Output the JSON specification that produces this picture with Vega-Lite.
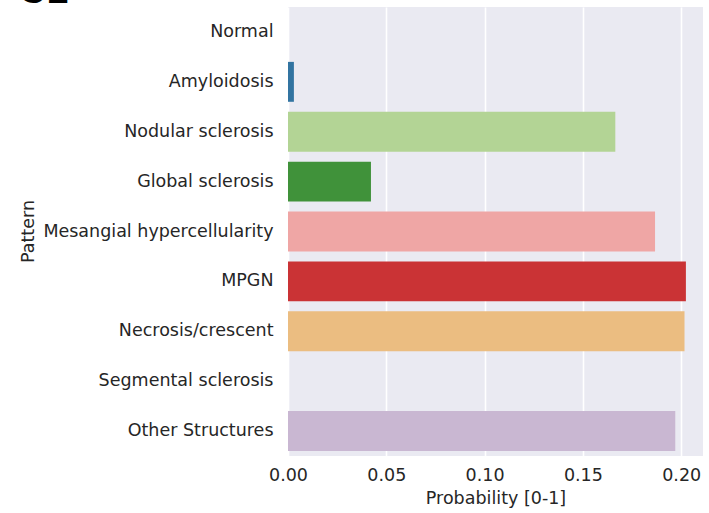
{
  "$schema": "https://vega.github.io/schema/vega-lite/v6.json",
  "width": 415,
  "height": 449,
  "autosize": {"type": "none"},
  "padding": {"left": 288, "top": 7, "right": 6, "bottom": 57},
  "background": "white",
  "title": {
    "text": "C2",
    "anchor": "start",
    "frame": "group",
    "orient": "top",
    "offset": 0,
    "dx": -270,
    "dy": 4,
    "font": "Liberation Sans",
    "fontSize": 40,
    "fontWeight": "normal",
    "color": "#000000"
  },
  "data": {
    "values": [
      {"Pattern": "Normal", "Probability": 0.0},
      {"Pattern": "Amyloidosis", "Probability": 0.003},
      {"Pattern": "Nodular sclerosis", "Probability": 0.1665},
      {"Pattern": "Global sclerosis", "Probability": 0.0422},
      {"Pattern": "Mesangial hypercellularity", "Probability": 0.1867},
      {"Pattern": "MPGN", "Probability": 0.2024},
      {"Pattern": "Necrosis/crescent", "Probability": 0.2017},
      {"Pattern": "Segmental sclerosis", "Probability": 0.0},
      {"Pattern": "Other Structures", "Probability": 0.197}
    ]
  },
  "config": {
    "view": {"fill": "#eaeaf2", "stroke": null},
    "font": "DejaVu Sans",
    "axis": {
      "labelFont": "DejaVu Sans",
      "titleFont": "DejaVu Sans",
      "labelFontSize": 17.5,
      "titleFontSize": 17.5,
      "titleFontWeight": "normal",
      "labelColor": "#262626",
      "titleColor": "#262626",
      "domain": false,
      "ticks": false,
      "labelLimit": 400
    }
  },
  "mark": {"type": "bar", "orient": "horizontal"},
  "encoding": {
    "y": {
      "field": "Pattern",
      "type": "nominal",
      "sort": null,
      "scale": {"paddingInner": 0.2, "paddingOuter": 0.1},
      "axis": {
        "title": "Pattern",
        "grid": false,
        "labelPadding": 15,
        "titleX": -255,
        "titleY": 224,
        "titleAngle": 270,
        "titleAlign": "center",
        "titleBaseline": "alphabetic"
      }
    },
    "x": {
      "field": "Probability",
      "type": "quantitative",
      "scale": {"domain": [0, 0.2111], "nice": false, "zero": true},
      "axis": {
        "title": "Probability [0-1]",
        "values": [0, 0.05, 0.1, 0.15, 0.2],
        "format": ".2f",
        "labelFlush": false,
        "grid": true,
        "gridColor": "white",
        "gridWidth": 1.6,
        "labelPadding": 10,
        "titlePadding": 6
      }
    },
    "color": {
      "field": "Pattern",
      "type": "nominal",
      "legend": null,
      "scale": {
        "domain": ["Normal", "Amyloidosis", "Nodular sclerosis", "Global sclerosis", "Mesangial hypercellularity", "MPGN", "Necrosis/crescent", "Segmental sclerosis", "Other Structures"],
        "range": ["#a5c6d8", "#3274a1", "#b3d495", "#40923a", "#efa6a5", "#ca3335", "#ebbd81", "#e68a33", "#c9b7d2"]
      }
    }
  }
}
